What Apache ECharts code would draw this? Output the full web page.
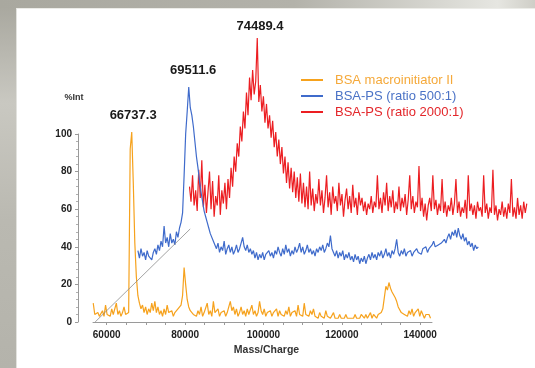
<!DOCTYPE html>
<html>
<head>
<meta charset="utf-8">
<script src="https://cdn.jsdelivr.net/npm/echarts@6/dist/echarts.min.js"></script>
<style>
body { margin: 0; }
#frame { position: absolute; left: 0; top: 0; width: 535px; height: 368px;
  background: linear-gradient(to bottom, #a7a69d 0%, #c9c8c1 28%, #bab9b1 60%, #b4b3ab 100%); }
#topbar { position: absolute; left: 0; top: 0; width: 535px; height: 8px;
  background: linear-gradient(to right, #a9a89f 0%, #b3b2aa 55%, #e6e6e1 93%, #cfcec7 100%); }
#panel { position: absolute; left: 16px; top: 8px; width: 519px; height: 360px; background: #fff;
  border-left: 1px solid #e2e2de; border-top: 1px solid #ecece8; box-sizing: border-box; }
#main { position: absolute; left: 0; top: 0; width: 535px; height: 368px; }
</style>
</head>
<body>
<div id="frame"></div>
<div id="topbar"></div>
<div id="panel"></div>
<div id="main"></div>
<script>
// spectra: one value per sample, samples STEP apart
var STEP = 393;

var orangeStart = 56560;
var orangeVals = [
    10,4,3,5,3,4,6,3,9,4,5,3,7,4,5,10,4,6,3,5,8,4,5,5,
    92,101,74,42,24,14,10,
    7,9,5,8,4,7,5,10,6,11,5,8,4,6,3,7,4,9,5,4,6,3,5,4,7,6,9,14,29,20,12,8,6,
    6,4,5,3,6,4,8,3,5,4, 10,4,6,3,11,5,4,7,3,5, 4,6,3,5,8,11,6,8,4,7,
    3,5,8,4,6,3,7,4,5,9, 4,6,3,5,11,6,4,7,3,5, 4,6,3,5,4,7,3,6,4,5,
    3,6,4,8,3,5,4,6,3,9, 4,5,3,10,4,5,3,6,4,7, 3,4,2,5,3,4,2,6,3,4,
    2,3,5,2,3,2,4,2,3,2, 4,2,3,2,3,2,4,2,3,2, 4,3,2,4,2,3,5,2,4,3,
    2,4,3,5,7,
    13,19,17,21,18,16,17,13,11,8,7,5,6,4,5,3,6,4,7,3,5,4,7,3,6,4,2,4,3,4,2
];

var blueStart = 67960;
var blueVals = [
    38,34,39,35,37,33,38,35,36,33,37,
    39,36,41,38,43,40,51,42,45,40,47,42,44,41,48,45,50,53,
    58,78,100,112,125,114,110,104,96,88,82,75,69,64,59,56,53,50,47,46,43,44,
    39,42,37,40,38,43,36,39,41,37, 40,36,38,41,37,39,42,45,40,38,
    41,37,39,36,38,34,37,33,36,34, 37,33,36,35,38,35,37,34,38,36,
    40,37,35,39,36,41,37,39,35,38, 36,40,37,39,42,37,40,36,38,41,
    37,39,36,38,35,39,37,40,38,41, 37,39,42,40,46,39,37,35,38,34,
    37,35,38,33,36,34,37,33,35,32, 36,33,35,31,34,32,35,31,34,36,
    33,37,34,36,33,37,35,38,34,36, 39,35,37,34,38,36,39,44,37,35,
    38,36,39,35,37,36,38,35,37,36, 39,37,38,36,39,38,40,37,39,38,
    41,43,40,39,41,40,42,41,44,42, 45,47,44,48,46,49,45,50,46,44,
    47,43,45,41,43,40,42,38,41,39, 40
];

var redStart = 81120;
var redVals = [
    72,64,78,62,70,59,81,66,86,61,73,58,69,80,60,75,56,67,62,78,57,70,63,74,60,76,66,82,
    72,88,80,95,88,104,96,112,103,122,110,130,118,134,121,128,151,117,126,112,120,106,
    116,103,110,98,107,93,101,88,97,84,93,79,88,74,85,71,82,69,80,66,77,64,79,63,74,61,
    72,60,80,62,71,59,68,63,76,
    62,70,58,66,78,61,69,57,72,63, 67,59,74,62,68,56,65,71,60,67,
    58,73,61,66,57,69,62,66,59,64, 57,63,60,67,58,64,61,78,60,66,
    58,69,62,74,59,67,61,70,58,64, 60,72,59,66,61,68,57,65,78,60,
    67,58,64,61,83,59,66,56,63,54, 62,66,59,78,60,65,57,63,59,76,
    58,64,56,62,59,66,57,63,76,58, 64,56,61,58,65,55,78,59,63,57,
    62,55,64,59,61,56,78,58,63,55, 61,58,81,57,62,54,60,57,64,56,
    61,55,63,58,76,56,61,55,66,57, 62,55,64,58,63
];

// thin grey guide line
var guideX = [57040, 81300];
var guideY = [0, 49.5];

var seriesNames = ['BSA macroinitiator II', 'BSA-PS (ratio 500:1)', 'BSA-PS (ratio 2000:1)'];
var seriesColors = ['#f6a21d', '#3f6bcb', '#ec1e22'];
var legendColors = ['#f5a93a', '#4a72c6', '#e3262a'];

var peakNames = ['66737.3', '69511.6', '74489.4'];
var peakLabelX = [66740, 82070, 99100];
var peakLabelY = [110, 134, 157];

var xLabels = [60000, 80000, 100000, 120000, 140000];
var xTicks = [60000, 65000, 70000, 75000, 80000, 85000, 90000, 95000, 100000,
    105000, 110000, 115000, 120000, 125000, 130000, 135000, 140000];

function toPairs(start, vals) {
    return vals.map(function (v, i) { return [start + i * STEP, v]; });
}

var FONT = '"Liberation Sans", Arial, sans-serif';

// the spectra run past the drawn axes, so they sit on a second, hidden grid
// with the same scale but a wider range
function spectrum(idx, start, vals) {
    return {
        name: seriesNames[idx],
        type: 'line',
        xAxisIndex: 1,
        yAxisIndex: 1,
        data: toPairs(start, vals),
        showSymbol: false,
        lineStyle: { color: seriesColors[idx], width: 1.2 },
        itemStyle: { color: seriesColors[idx] },
        markPoint: {
            symbol: 'circle',
            symbolSize: 1,
            itemStyle: { color: 'rgba(0,0,0,0)' },
            label: {
                show: true,
                formatter: peakNames[idx],
                color: '#1a1a1a',
                fontFamily: FONT,
                fontWeight: 'bold',
                fontSize: 13
            },
            data: [{ coord: [peakLabelX[idx], peakLabelY[idx]] }]
        }
    };
}

var myChart = echarts.init(document.getElementById('main'));
var option = {
    animation: false,
    grid: [
        { left: 93, right: 103, top: 134, bottom: 46 },
        { left: 93, right: 5.02, top: 21.2, bottom: 46 }
    ],
    legend: {
        orient: 'vertical',
        left: 301,
        top: 72,
        padding: 0,
        itemGap: 0,
        itemWidth: 22,
        itemHeight: 2,
        icon: 'rect',
        textStyle: { fontFamily: FONT, fontSize: 13, lineHeight: 16, padding: [0, 0, 0, 7] },
        data: seriesNames.map(function (n, i) {
            return { name: n, textStyle: { color: legendColors[i] } };
        })
    },
    xAxis: [{
        type: 'value',
        gridIndex: 0,
        min: 56500,
        max: 143000,
        name: 'Mass/Charge',
        nameLocation: 'middle',
        nameGap: 22,
        nameTextStyle: { fontFamily: FONT, fontWeight: 'bold', fontSize: 10.5, color: '#333', padding: [0, 0, 0, 8] },
        splitLine: { show: false },
        axisLine: { lineStyle: { color: '#9a9a9a' } },
        axisTick: { show: true, length: 3, customValues: xTicks, lineStyle: { color: '#9a9a9a' } },
        axisLabel: {
            customValues: xLabels,
            formatter: function (v) { return String(v); },
            margin: 8,
            fontFamily: FONT,
            fontWeight: 'bold',
            fontSize: 10,
            color: '#222'
        }
    }, {
        type: 'value',
        gridIndex: 1,
        min: 56500,
        max: 168000,
        show: false
    }],
    yAxis: [{
        type: 'value',
        gridIndex: 0,
        min: 0,
        max: 100,
        interval: 20,
        offset: 15,
        name: '%Int',
        nameLocation: 'end',
        nameGap: 32,
        nameTextStyle: { fontFamily: FONT, fontWeight: 'bold', fontSize: 9, color: '#333', padding: [0, 8, 0, 0] },
        splitLine: { show: false },
        axisLine: { show: true, lineStyle: { color: '#9a9a9a' } },
        axisTick: { show: true, length: 3, lineStyle: { color: '#9a9a9a' } },
        minorTick: { show: true, splitNumber: 5, length: 2, lineStyle: { color: '#b0b0b0' } },
        axisLabel: { margin: 6, fontFamily: FONT, fontWeight: 'bold', fontSize: 10, color: '#222' }
    }, {
        type: 'value',
        gridIndex: 1,
        min: 0,
        max: 160,
        show: false
    }],
    series: [
        spectrum(2, redStart, redVals),
        spectrum(0, orangeStart, orangeVals),
        spectrum(1, blueStart, blueVals),
        {
            name: 'guide',
            type: 'line',
            xAxisIndex: 1,
            yAxisIndex: 1,
            data: [[guideX[0], guideY[0]], [guideX[1], guideY[1]]],
            showSymbol: false,
            lineStyle: { color: '#8c8c8c', width: 0.8 },
            z: 3
        }
    ]
};
if (option && typeof option === "object") {
    myChart.setOption(option, true);
}
</script>
</body>
</html>
